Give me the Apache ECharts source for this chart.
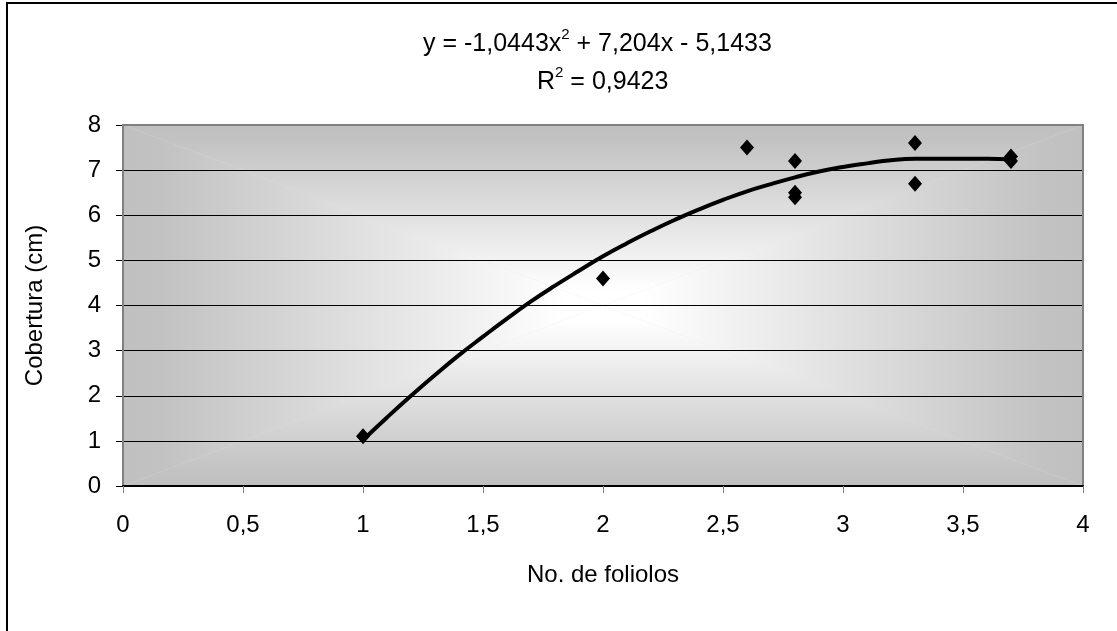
<!DOCTYPE html>
<html>
<head>
<meta charset="utf-8">
<script src="https://cdn.jsdelivr.net/npm/echarts@6/dist/echarts.min.js"></script>
<style>
html,body{margin:0;padding:0;background:#fff;}
#chart{width:1117px;height:631px;}
</style>
</head>
<body>
<div id="chart"></div>
<script>
// ---- data ----
const pointsX = [1, 2, 2.6, 2.8, 2.8, 2.8, 3.3, 3.3, 3.7, 3.7];
const pointsY = [1.1, 4.6, 7.5, 7.2, 6.5, 6.4, 7.6, 6.7, 7.3, 7.2];
const trendX = [1.0, 1.1, 1.2, 1.3, 1.4, 1.5, 1.6, 1.7, 1.8, 1.9, 2.0, 2.1, 2.2, 2.3, 2.4, 2.5, 2.6, 2.7, 2.8, 2.9, 3.0, 3.1, 3.2, 3.3, 3.4, 3.5, 3.6, 3.7];
const trendY = [1.02, 1.52, 2.00, 2.46, 2.90, 3.31, 3.71, 4.09, 4.44, 4.77, 5.09, 5.38, 5.65, 5.90, 6.13, 6.34, 6.53, 6.69, 6.84, 6.97, 7.07, 7.15, 7.22, 7.25, 7.25, 7.25, 7.25, 7.24];
const xTickLabels = ['0', '0,5', '1', '1,5', '2', '2,5', '3', '3,5', '4'];
const yTickLabels = ['0', '1', '2', '3', '4', '5', '6', '7', '8'];
const xTitle = 'No. de foliolos';
const yTitle = 'Cobertura (cm)';
const eqLine1 = '{n|y = -1,0443x}{sup|2}{n| + 7,204x - 5,1433}';
const eqLine2 = '{n|R}{sup|2}{n| = 0,9423}';

// ---- layout ----
const FONT = "'Liberation Sans', Arial, sans-serif";
const FS = 24;
const EQFS = 25;
const G = { left: 123, top: 125, width: 960, height: 361 };
const cx = G.left + G.width / 2, cy = G.top + G.height / 2;
const L = G.left, T = G.top, R = G.left + G.width, B = G.top + G.height;
const EDGE = '#c0c0c0', MID = '#ffffff';

function lin(x0, y0, x1, y1, c0, c1) {
  return { type: 'linear', x: x0, y: y0, x2: x1, y2: y1,
    colorStops: [{ offset: 0, color: c0 }, { offset: 0.08, color: c0 === EDGE ? '#c2c2c2' : c0 },
                 { offset: 0.92, color: c1 === EDGE ? '#c2c2c2' : c1 }, { offset: 1, color: c1 }] };
}
const eqRich = {
  n: { fontSize: EQFS, fontFamily: FONT, fill: '#000', lineHeight: 30, verticalAlign: 'bottom' },
  sup: { fontSize: 15, fontFamily: FONT, fill: '#000', lineHeight: 22, verticalAlign: 'top' }
};

const chart = echarts.init(document.getElementById('chart'), null, { renderer: 'canvas' });

const scatterData = pointsX.map((x, i) => [x, pointsY[i]]);
const trendData = trendX.map((x, i) => [x, trendY[i]]);

chart.setOption({
  backgroundColor: '#ffffff',
  animation: false,
  textStyle: { fontFamily: FONT },
  grid: {
    left: G.left, top: G.top, width: G.width, height: G.height,
    show: true, z: 3, borderColor: '#808080', borderWidth: 2,
    backgroundColor: 'transparent'
  },
  xAxis: {
    type: 'value', min: 0, max: 4, interval: 0.5, z: 4,
    axisLine: { show: true, lineStyle: { color: '#000', width: 2 } },
    axisTick: { show: true, length: 7, lineStyle: { color: '#808080', width: 1 } },
    axisLabel: { fontSize: FS, color: '#000', fontFamily: FONT, margin: 27,
      formatter: v => xTickLabels[Math.round(v / 0.5)] },
    splitLine: { show: false },
    name: xTitle, nameLocation: 'middle', nameGap: 77, nameMoveOverlap: false,
    nameTextStyle: { fontSize: FS, color: '#000', fontFamily: FONT }
  },
  yAxis: {
    type: 'value', min: 0, max: 8, interval: 1,
    axisLine: { show: true, lineStyle: { color: '#808080', width: 2 } },
    axisTick: { show: true, length: 7, lineStyle: { color: '#000', width: 1 } },
    axisLabel: { fontSize: FS, color: '#000', fontFamily: FONT, margin: 22,
      formatter: v => yTickLabels[Math.round(v)] },
    splitLine: { show: true, lineStyle: { color: '#000', width: 1 } },
    name: yTitle, nameLocation: 'middle', nameGap: 76, nameRotate: 90, nameMoveOverlap: false,
    nameTextStyle: { fontSize: FS, color: '#000', fontFamily: FONT }
  },
  graphic: [
    { type: 'rect', z: -20, silent: true,
      shape: { x: 7, y: 3, width: 1300, height: 800 },
      style: { fill: '#fff', stroke: '#000', lineWidth: 2 } },
    { type: 'rect', z: -15, silent: true,
      shape: { x: L, y: T, width: G.width, height: G.height },
      style: { fill: '#e0e0e0' } },
    { type: 'polygon', z: -10, silent: true,
      shape: { points: [[L, T], [R, T], [cx, cy]] },
      style: { fill: lin(0, 0, 0, 1, EDGE, MID) } },
    { type: 'polygon', z: -10, silent: true,
      shape: { points: [[L, B], [R, B], [cx, cy]] },
      style: { fill: lin(0, 0, 0, 1, MID, EDGE) } },
    { type: 'polygon', z: -10, silent: true,
      shape: { points: [[L, T], [L, B], [cx, cy]] },
      style: { fill: lin(0, 0, 1, 0, EDGE, MID) } },
    { type: 'polygon', z: -10, silent: true,
      shape: { points: [[R, T], [R, B], [cx, cy]] },
      style: { fill: lin(0, 0, 1, 0, MID, EDGE) } },
    { type: 'text', z: 10, x: 423, y: 42,
      style: { text: eqLine1, fill: '#000', font: EQFS + 'px ' + FONT, verticalAlign: 'middle', align: 'left', rich: eqRich } },
    { type: 'text', z: 10, x: 537, y: 80,
      style: { text: eqLine2, fill: '#000', font: EQFS + 'px ' + FONT, verticalAlign: 'middle', align: 'left', rich: eqRich } }
  ],
  series: [
    {
      type: 'line', data: trendData, smooth: true, showSymbol: false, symbol: 'none',
      lineStyle: { color: '#000', width: 4 }, z: 2, silent: true
    },
    {
      type: 'scatter', data: scatterData, symbol: 'diamond', symbolSize: [14, 16],
      itemStyle: { color: '#000', opacity: 1 }, z: 3, silent: true
    }
  ]
});
</script>
</body>
</html>
